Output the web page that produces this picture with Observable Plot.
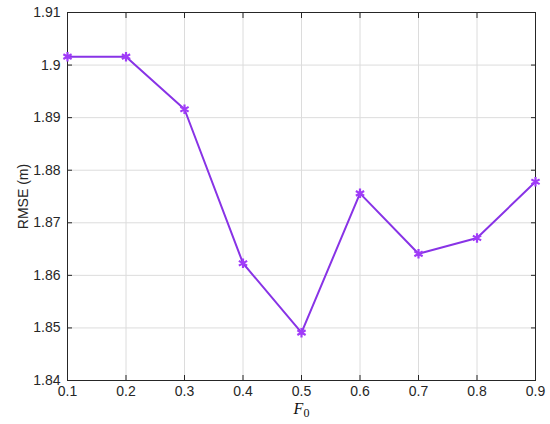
<!DOCTYPE html>
<html>
<head>
<meta charset="utf-8">
<script src="https://cdn.jsdelivr.net/npm/d3@7"></script>
<script src="https://cdn.jsdelivr.net/npm/@observablehq/plot@0.6"></script>
<style>
  html, body { margin: 0; padding: 0; background: #fff; }
  #chart svg { display: block; }
</style>
</head>
<body>
<div id="chart"></div>
<script>
const f0 = [0.1, 0.2, 0.3, 0.4, 0.5, 0.6, 0.7, 0.8, 0.9];
const rmse = [1.9016, 1.9016, 1.8916, 1.8623, 1.8491, 1.8756, 1.8641, 1.8671, 1.8778];
const xTicks = [0.1, 0.2, 0.3, 0.4, 0.5, 0.6, 0.7, 0.8, 0.9];
const yTicks = [1.84, 1.85, 1.86, 1.87, 1.88, 1.89, 1.9, 1.91];
const xLabel = "F0";
const yLabel = "RMSE (m)";

const data = f0.map((x, i) => ({x, y: rmse[i]}));
const fmtX = d => d3.format(".1f")(d);
const fmtY = d => String(+d.toFixed(2));
const axisColor = "#262626";
const font = "Liberation Sans, Arial, Helvetica, sans-serif";

const plot = Plot.plot({
  width: 550,
  height: 424,
  marginLeft: 67,
  marginRight: 15,
  marginTop: 12,
  marginBottom: 44,
  style: {fontFamily: font, fontSize: "14px", color: axisColor, background: "#fff"},
  x: {domain: [0.1, 0.9]},
  y: {domain: [1.84, 1.91]},
  marks: [
    Plot.gridX(xTicks, {stroke: "#dcdcdc", strokeOpacity: 1}),
    Plot.gridY(yTicks, {stroke: "#dcdcdc", strokeOpacity: 1}),
    Plot.axisX(xTicks, {anchor: "bottom", tickSize: -5, tickPadding: 11, tickFormat: fmtX, label: null, stroke: axisColor, fill: axisColor, className: "tl"}),
    Plot.axisX(xTicks, {anchor: "top", tickSize: -5, tickFormat: () => "", label: null, stroke: axisColor}),
    Plot.axisY(yTicks, {anchor: "left", tickSize: -5, tickPadding: 12, tickFormat: fmtY, label: yLabel, labelAnchor: "center", labelArrow: "none", labelOffset: 49, stroke: axisColor, fill: axisColor, className: "tl"}),
    Plot.axisY(yTicks, {anchor: "right", tickSize: -5, tickFormat: () => "", label: null, stroke: axisColor}),
    Plot.frame({stroke: axisColor, strokeWidth: 1}),
    Plot.line(data, {x: "x", y: "y", stroke: "#8833e6", strokeWidth: 2}),
    Plot.dot(data, {x: "x", y: "y", symbol: "asterisk", r: 4.5, stroke: "#a03cf8", strokeWidth: 2.2}),
    Plot.text([xLabel], {frameAnchor: "bottom", dy: 33, text: d => d, fontFamily: "Liberation Serif, DejaVu Serif, serif", fontStyle: "italic", fontSize: 16, fill: "#111", className: "xlab"})
  ]
});
document.getElementById("chart").appendChild(plot);
// enlarge axis text
d3.select(plot).selectAll("text").each(function() {
  if (this.closest(".xlab")) return;
  this.style.fontSize = "14px";
  this.style.fontFamily = font;
});
// render subscript for the x label
d3.select(plot).selectAll(".xlab text").each(function() {
  const t = d3.select(this);
  const s = t.text();
  t.text("");
  t.append("tspan").text(s.slice(0, 1));
  t.append("tspan").attr("font-style", "normal").attr("font-size", 12).attr("dy", "0.3em").text(s.slice(1));
});
</script>
</body>
</html>
